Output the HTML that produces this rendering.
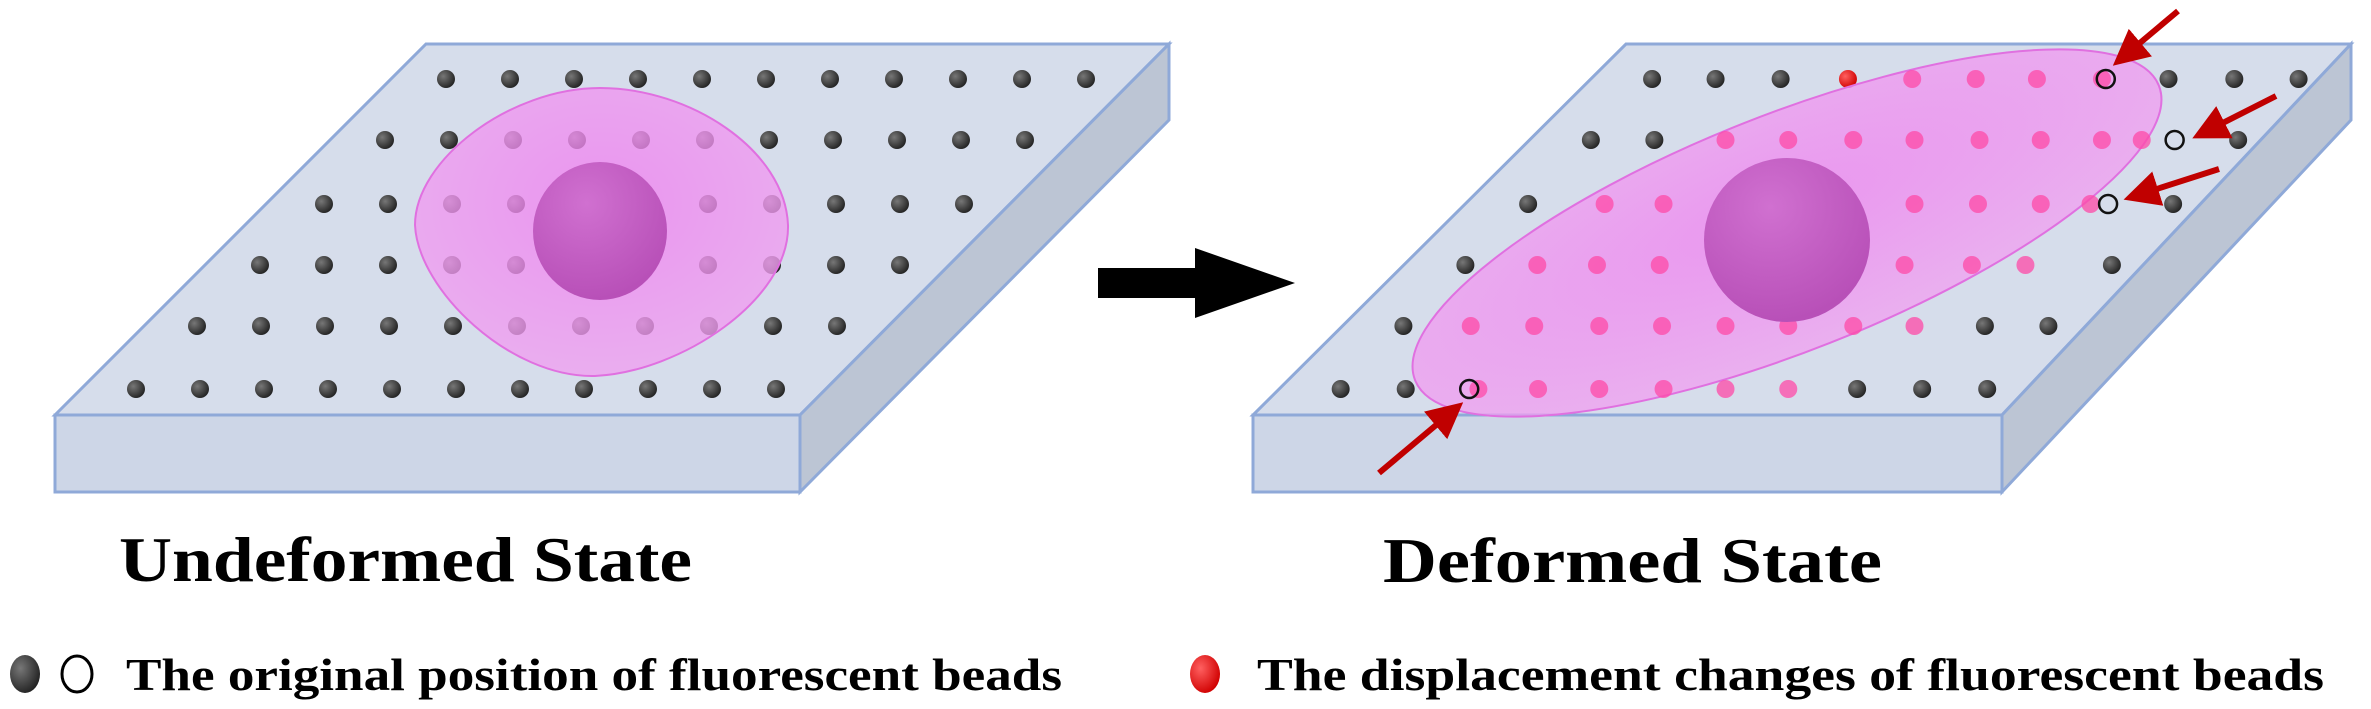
<!DOCTYPE html>
<html><head><meta charset="utf-8"><style>
html,body{margin:0;padding:0;background:#fff}
svg{display:block}
text{font-family:"Liberation Serif",serif;font-weight:bold;fill:#000}
</style></head><body>
<svg id="fig" width="2371" height="709" viewBox="0 0 2371 709" xmlns="http://www.w3.org/2000/svg">
<defs>
<radialGradient id="cellg" cx="50%" cy="40%" r="60%"><stop offset="0" stop-color="#f080f0"/><stop offset="1" stop-color="#f0a0f0"/></radialGradient>
<radialGradient id="nucg" cx="40%" cy="30%" r="70%"><stop offset="0" stop-color="#d070d0"/><stop offset="1" stop-color="#b850b8"/></radialGradient>
<radialGradient id="darkg" cx="35%" cy="35%" r="70%"><stop offset="0" stop-color="#777"/><stop offset="1" stop-color="#222"/></radialGradient>
<radialGradient id="redg" cx="35%" cy="35%" r="70%"><stop offset="0" stop-color="#ff6060"/><stop offset="1" stop-color="#d00000"/></radialGradient>
<marker id="ah" markerWidth="6" markerHeight="6" refX="4" refY="3" orient="auto"><path d="M0,0 L6,3 L0,6 Z" fill="#c00000"/></marker>
</defs>
<g id="left">
<polygon points="426,44 1169,44 800,415 55,415" fill="#d6ddeb" stroke="#8fa9d8" stroke-width="3"/>
<polygon points="55,415 800,415 800,492 55,492" fill="#cdd6e7" stroke="#8fa9d8" stroke-width="3"/>
<polygon points="800,415 1169,44 1169,120 800,492" fill="#bcc5d4" stroke="#8fa9d8" stroke-width="3"/>
<g id="ldots"></g>
<path d="M600,88 C690,88 785,150 788,225 C790,300 680,372 595,376 C510,378 418,290 415,225 C415,160 510,88 600,88 Z" fill="url(#cellg)" fill-opacity="0.78" stroke="#e070e0" stroke-width="2"/>
<ellipse cx="600" cy="231" rx="67" ry="69" fill="url(#nucg)"/>
</g>
<g>
<polygon points="1098,268 1195,268 1195,248 1295,283 1195,318 1195,298 1098,298" fill="#000"/>
</g>
<g id="right">
<polygon points="1626,44 2351,44 2002,415 1253,415" fill="#d6ddeb" stroke="#8fa9d8" stroke-width="3"/>
<polygon points="1253,415 2002,415 2002,492 1253,492" fill="#cdd6e7" stroke="#8fa9d8" stroke-width="3"/>
<polygon points="2002,415 2351,44 2351,120 2002,492" fill="#bcc5d4" stroke="#8fa9d8" stroke-width="3"/>
<g id="rdots"></g>
<ellipse cx="1787" cy="233" rx="400" ry="118" transform="rotate(-21.6 1787 233)" fill="url(#cellg)" fill-opacity="0.75" stroke="#e070e0" stroke-width="2"/>
<g id="rpink" opacity="0.75"></g>
<ellipse cx="1787" cy="240" rx="83" ry="82" fill="url(#nucg)"/>
<g id="ropen"></g>
<g stroke="#c00000" stroke-width="6" marker-end="url(#ah)">
<line x1="2178" y1="11" x2="2122" y2="58"/>
<line x1="2276" y1="96" x2="2203" y2="133"/>
<line x1="2219" y1="169" x2="2135" y2="196"/>
<line x1="1379" y1="473" x2="1454" y2="410"/>
</g>
</g>
<text x="119" y="581" font-size="64" textLength="573" lengthAdjust="spacingAndGlyphs">Undeformed State</text>
<text x="1383" y="582" font-size="64" textLength="499" lengthAdjust="spacingAndGlyphs">Deformed State</text>
<g>
<ellipse cx="25" cy="674" rx="15" ry="19" fill="url(#darkg)"/>
<ellipse cx="77" cy="674" rx="15" ry="18" fill="#fff" stroke="#000" stroke-width="3"/>
<text x="126" y="690" font-size="46" textLength="936" lengthAdjust="spacingAndGlyphs">The original position of fluorescent beads</text>
</g>
<g>
<ellipse cx="1205" cy="674" rx="15" ry="19" fill="url(#redg)"/>
<text x="1257" y="690" font-size="46" textLength="1067" lengthAdjust="spacingAndGlyphs">The displacement changes of fluorescent beads</text>
</g>
</svg>
<script>
const NS="http://www.w3.org/2000/svg";
const rowY=[79,140,204,265,326,389];
const leftRowStart=[446,385,324,260,197,136];
const step=64;
function dot(g,x,y,fill,stroke){const c=document.createElementNS(NS,'circle');


c.setAttribute('cx',x);c.setAttribute('cy',y);c.setAttribute('r',9);c.setAttribute('fill',fill);
if(stroke){c.setAttribute('stroke',stroke);c.setAttribute('stroke-width',2.5);}g.appendChild(c);}
const L=document.getElementById('ldots');
rowY.forEach((y,i)=>{for(let k=0;k<11;k++)dot(L,leftRowStart[i]+k*step,y,'url(#darkg)');});
const X=d=>1180+d/1.307;
const darkR=[[617,700,785,1292,1378,1462],[537,620,1383],[455,1298],[373,1218],[292,1052,1135],[210,295,885,970,1055]];
const pinkR=[[957,1040,1120,1205],[713,795,880,960,1045,1125,1205,1257],[555,632,960,1043,1125,1190],[467,545,627,947,1035,1105],[380,463,548,630,713,795,880,960],[390,468,548,632,713,795]];
const openR=[[1210],[1300],[1213],[],[],[378]];
const R=document.getElementById('rdots'),P=document.getElementById('rpink'),O=document.getElementById('ropen');
rowY.forEach((y,i)=>{darkR[i].forEach(d=>dot(R,X(d),y,'url(#darkg)'));
pinkR[i].forEach(d=>dot(P,X(d),y,'#ff4aa8'));
openR[i].forEach(d=>dot(O,X(d),y,'none','#111'));});
dot(R,X(873),79,'url(#redg)');
</script>
</body></html>
